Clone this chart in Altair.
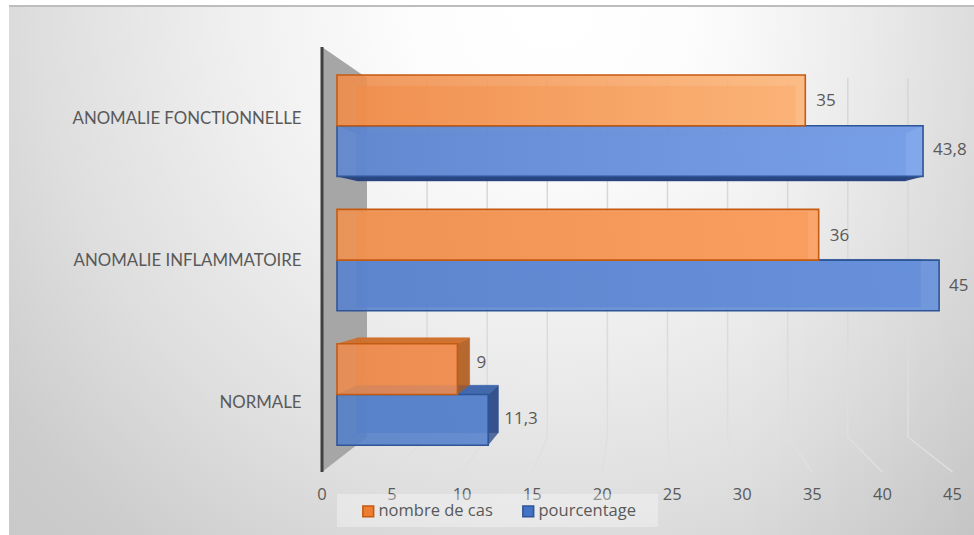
import altair as alt
import pandas as pd

# Chart values
categories = ["ANOMALIE FONCTIONNELLE", "ANOMALIE INFLAMMATOIRE", "NORMALE"]
series_names = ["nombre de cas", "pourcentage"]
nombre_de_cas = [35, 36, 9]
pourcentage = [43.8, 45, 11.3]
axis_ticks = [0, 5, 10, 15, 20, 25, 30, 35, 40, 45]

W, H = 974, 535
FONT = "Open Sans"
CAT_FONT = "Lato"
TEXT = "#595959"

# Front plane of the bars: pixels per unit and the baseline
X0, SX = 337.0, 13.38
# Row layout of the bars
ROW_TOP, ROW_STEP, BAR_H = 75.0, 134.4, 50.7
# Perspective of the bars' depth: back face = vanishing point + K * (front - vanishing point)
VPX, VPY, K = 648.0, 250.0, 0.936

FILLS = {"nombre de cas": "#ED7D31", "pourcentage": "#4472C4"}
EDGES = {"nombre de cas": "#C55A11", "pourcentage": "#2F5597"}
SIDE_DARK = {"nombre de cas": "#A85A20", "pourcentage": "#24407A"}
TOP_DARK = {"nombre de cas": "#CC6C28", "pourcentage": "#3A62A8"}
INNER_TOP = {"nombre de cas": ("#FFB27A", 0.15), "pourcentage": ("#3A60AC", 0.6)}
LIGHT = {"nombre de cas": "#FFB27A", "pourcentage": "#7FA3E8"}
# Left/right colours of each bar's lighting, by row
LIGHTING = {
    "nombre de cas": [("#EF8C4A", "#FDB679"), ("#EF9150", "#FB9E5E"), ("#EC8A4D", "#F08E52")],
    "pourcentage": [("#5E86CF", "#78A1EC"), ("#5882CD", "#6690DC"), ("#5380C8", "#5682CC")],
}

x_scale = alt.Scale(domain=[-X0 / SX, (W - X0) / SX], range=[0, W], nice=False, zero=False)
y_px = alt.Scale(domain=[0, H], range=[0, H], nice=False, zero=False)
y_band = alt.Scale(
    domain=categories,
    range=[ROW_TOP - 16.5, ROW_TOP - 16.5 + 3 * ROW_STEP],
    paddingInner=0,
    paddingOuter=0,
)
off_scale = alt.Scale(domain=series_names, paddingInner=0, paddingOuter=(ROW_STEP - 2 * BAR_H) / 2 / BAR_H)
col_scale = alt.Scale(domain=series_names, range=[FILLS[s] for s in series_names])
stroke_scale = alt.Scale(domain=series_names, range=[EDGES[s] for s in series_names])


def to_value(px):
    return (px - X0) / SX


def back_x(px):
    return VPX + K * (px - VPX)


def back_y(py):
    return VPY + K * (py - VPY)


values = {"nombre de cas": nombre_de_cas, "pourcentage": pourcentage}
bars = pd.DataFrame(
    [
        {"categorie": c, "serie": s, "valeur": values[s][i], "rang": i}
        for s in series_names
        for i, c in enumerate(categories)
    ]
)

# Depth faces of every bar, split by how each face is drawn
back_rows, vert_rows, horiz_rows = [], [], []
for series_pos, s in enumerate(series_names):
    for i in range(3):
        v = values[s][i]
        x_l, x_r = X0, X0 + SX * v
        y_t = ROW_TOP + i * ROW_STEP + series_pos * BAR_H
        y_b = y_t + BAR_H
        bx_l, bx_r, by_t, by_b = back_x(x_l), back_x(x_r), back_y(y_t), back_y(y_b)
        # The upper series sits in front of the lower one's depth, so its rear never hangs below its front
        clipped_b = min(by_b, y_b) if series_pos == 0 else by_b
        face_id = f"{s}-{i}"
        back_rows.append(
            {"s": s, "x": to_value(bx_l), "x2": to_value(bx_r), "y": by_t, "y2": clipped_b}
        )
        # Left and right faces
        for name, fx, bx, outside in (("l", x_l, bx_l, False), ("r", x_r, bx_r, bx_r > x_r)):
            colour, alpha = (SIDE_DARK[s], 0.8) if outside else (LIGHT[s], 0.18)
            for px, yy, yy2 in ((fx, y_t, y_b), (bx, by_t, clipped_b)):
                vert_rows.append(
                    {"id": f"{face_id}-{name}", "s": s, "x": to_value(px), "y": yy, "y2": yy2, "fill": colour, "a": alpha}
                )
        # Top face
        colour, alpha = (TOP_DARK[s], 0.88) if by_t < y_t else INNER_TOP[s]
        for py, xx, xx2 in ((y_t, x_l, x_r), (by_t, bx_l, bx_r)):
            horiz_rows.append(
                {"id": f"{face_id}-t", "s": s, "x": to_value(xx), "x2": to_value(xx2), "y": py, "fill": colour, "a": alpha}
            )
        # Bottom face, only for the lower series
        if series_pos == 1:
            colour, alpha = (SIDE_DARK[s], 0.95) if by_b > y_b else (LIGHT[s], 0.16)
            for py, xx, xx2 in ((y_b, x_l, x_r), (by_b, bx_l, bx_r)):
                horiz_rows.append(
                    {"id": f"{face_id}-b", "s": s, "x": to_value(xx), "x2": to_value(xx2), "y": py, "fill": colour, "a": alpha}
                )

back_df, vert_df, horiz_df = pd.DataFrame(back_rows), pd.DataFrame(vert_rows), pd.DataFrame(horiz_rows)

one = pd.DataFrame({"a": [0]})
X_Q = lambda f="x": alt.X(f"{f}:Q", scale=x_scale, axis=None)
Y_Q = lambda f="y": alt.Y(f"{f}:Q", scale=y_px, axis=None)

# Backdrop: an elliptical sheen centred on the top edge, drawn oversize and masked by the page margins
sheen = alt.Chart(one).mark_rect(
    fill=alt.RadialGradient(
        gradient="radial",
        x1=0.5, y1=0.5, r1=0.0,
        x2=0.5, y2=0.5, r2=0.65,
        stops=[
            alt.GradientStop(offset=0.0, color="#FFFFFF"),
            alt.GradientStop(offset=0.15, color="#FDFDFD"),
            alt.GradientStop(offset=0.35, color="#F0F0F0"),
            alt.GradientStop(offset=0.58, color="#DEDEDE"),
            alt.GradientStop(offset=0.77, color="#CCCCCC"),
            alt.GradientStop(offset=1.0, color="#C4C4C4"),
        ],
    ),
).encode(x=alt.value(0), x2=alt.value(1100), y=alt.value(-675), y2=alt.value(685))
right_shade = alt.Chart(one).mark_rect(
    fill=alt.LinearGradient(
        gradient="linear", x1=0, y1=0, x2=1, y2=0,
        stops=[
            alt.GradientStop(offset=0.0, color="rgba(0,0,0,0)"),
            alt.GradientStop(offset=1.0, color="rgba(0,0,0,0.04)"),
        ],
    ),
).encode(x=alt.value(740), x2=alt.value(W), y=alt.value(5), y2=alt.value(H))
mask_left = alt.Chart(one).mark_rect(fill="#FFFFFF").encode(x=alt.value(0), x2=alt.value(9), y=alt.value(0), y2=alt.value(H))
mask_top = alt.Chart(one).mark_rect(fill="#FFFFFF").encode(x=alt.value(0), x2=alt.value(W), y=alt.value(0), y2=alt.value(5))
top_edge = alt.Chart(one).mark_rect(fill="#BDBDBD").encode(x=alt.value(9), x2=alt.value(W), y=alt.value(5), y2=alt.value(7))

# Left wall and value gridlines in depth
FX0, FSX = 322.0, 14.01
WX0, WSX = 367.0, 12.02
FLOOR_F, FLOOR_B, TOP_F, TOP_B = 472.0, 437.0, 47.0, 78.0

wall_df = pd.DataFrame(
    [
        {"x": to_value(FX0), "y": TOP_F, "y2": FLOOR_F},
        {"x": to_value(WX0), "y": TOP_B, "y2": FLOOR_B},
    ]
)
wall = alt.Chart(wall_df).mark_area(orient="vertical", color="#A6A6A6", opacity=1).encode(
    x=X_Q(), y=Y_Q(), y2="y2:Q"
)

grid_rows = []
for t in axis_ticks[1:]:
    grid_rows += [
        {"t": t, "o": 0, "x": to_value(WX0 + WSX * t), "y": TOP_B},
        {"t": t, "o": 1, "x": to_value(WX0 + WSX * t), "y": FLOOR_B},
        {"t": t, "o": 2, "x": to_value(FX0 + FSX * t), "y": FLOOR_F},
    ]
grid = alt.Chart(pd.DataFrame(grid_rows)).mark_line(
    stroke=alt.LinearGradient(
        gradient="linear", x1=0, y1=0, x2=0, y2=1,
        stops=[
            alt.GradientStop(offset=0.0, color="#D6D6D6"),
            alt.GradientStop(offset=0.5, color="#D9D9D9"),
            alt.GradientStop(offset=1.0, color="#E0E0E0"),
        ],
    ),
    strokeWidth=1.5,
).encode(
    x=alt.X("x:Q", scale=x_scale, axis=None, sort=None),
    y=Y_Q(),
    detail="t:N",
    order="o:Q",
)

spine = alt.Chart(wall_df.head(1)).mark_rule(color="#404040", strokeWidth=3).encode(
    x=X_Q(), y=Y_Q(), y2="y2:Q"
)

# Tick values along the floor's front edge
floor_labels = alt.Chart(pd.DataFrame({"t": axis_ticks})).mark_text(
    font=FONT, fontSize=16.5, color=TEXT, baseline="middle", align="center"
).encode(
    x=alt.X(
        "t:Q",
        scale=alt.Scale(domain=[0, 45], range=[FX0, FX0 + 45 * FSX], nice=False, zero=False),
        axis=None,
    ),
    y=alt.value(495),
    text="t:Q",
)

# Translucent band behind the legend, over the tick values it crosses
legend_band = alt.Chart(one).mark_rect(fill="#FFFFFF", opacity=0.33).encode(
    x=alt.value(337), x2=alt.value(658), y=alt.value(494), y2=alt.value(527)
)

# Category axis, following the wall's front edge
cat_axis = alt.Chart(pd.DataFrame({"c": categories})).mark_point(opacity=0).encode(
    y=alt.Y(
        "c:N",
        sort=categories,
        title=None,
        scale=alt.Scale(domain=categories, range=[TOP_F + 1, FLOOR_F + 1], paddingInner=0, paddingOuter=0),
        axis=alt.Axis(
            domain=False, ticks=False, grid=False, offset=-301, labelPadding=0, zindex=1,
            labelFont=CAT_FONT, labelFontSize=16.8, labelColor=TEXT, labelLimit=300,
        ),
    ),
    x=alt.value(301),
)

legend_spec = dict(
    title=None, orient="none", legendX=360, legendY=503, direction="horizontal", columns=2,
    columnPadding=26, padding=0, symbolType="square", symbolSize=115, symbolStrokeWidth=1.6,
    labelFont=FONT, labelFontSize=16.5, labelColor=TEXT, labelOffset=2, symbolOpacity=1,
)

# Base bars carry the shared scales and the legend
base = alt.Chart(bars).mark_bar(opacity=0.0).encode(
    x=alt.X("valeur:Q", scale=x_scale, axis=None, stack=None),
    y=alt.Y("categorie:N", scale=y_band, sort=categories, axis=None),
    yOffset=alt.YOffset("serie:N", scale=off_scale, sort=series_names),
    color=alt.Color("serie:N", scale=col_scale, legend=alt.Legend(**legend_spec)),
    stroke=alt.Stroke("serie:N", scale=stroke_scale, legend=alt.Legend(**legend_spec)),
)


def bar_layers(s):
    """All faces of one series, rear to front."""
    layers = []
    back = back_df[back_df.s == s]
    layers.append(
        alt.Chart(back).mark_rect(opacity=0.8, fill=LIGHTING[s][0][0], stroke=EDGES[s], strokeWidth=1, strokeOpacity=0.45).encode(
            x=X_Q(), x2="x2:Q", y=Y_Q(), y2="y2:Q"
        )
    )
    v = vert_df[vert_df.s == s]
    layers.append(
        alt.Chart(v).mark_area(orient="vertical").encode(
            x=X_Q(), y=Y_Q(), y2="y2:Q", detail="id:N",
            fill=alt.Fill("fill:N", scale=None), opacity=alt.Opacity("a:Q", scale=None),
        )
    )
    h = horiz_df[horiz_df.s == s]
    layers.append(
        alt.Chart(h).mark_area(orient="horizontal").encode(
            y=Y_Q(), x=X_Q(), x2="x2:Q", detail="id:N",
            fill=alt.Fill("fill:N", scale=None), opacity=alt.Opacity("a:Q", scale=None),
        )
    )
    sub = bars[bars.serie == s]
    for _, row in sub.iterrows():
        left, right = LIGHTING[s][row.rang]
        layers.append(
            alt.Chart(pd.DataFrame([row])).mark_bar(
                fill=alt.LinearGradient(
                    gradient="linear", x1=0, y1=0, x2=1, y2=0,
                    stops=[alt.GradientStop(offset=0, color=left), alt.GradientStop(offset=1, color=right)],
                ),
                fillOpacity=0.88,
                stroke=EDGES[s],
                strokeWidth=1.6,
            ).encode(
                x=alt.X("valeur:Q", scale=x_scale, axis=None, stack=None),
                y=alt.Y("categorie:N", scale=y_band, sort=categories, axis=None),
                yOffset=alt.YOffset("serie:N", scale=off_scale, sort=series_names),
            )
        )
    return layers


# Data labels, set clear of each bar's outer edge
label_nudges = {
    ("nombre de cas", 0): (11, 1), ("pourcentage", 0): (10, -1),
    ("nombre de cas", 1): (11, 1), ("pourcentage", 1): (10, 1),
    ("nombre de cas", 2): (19, -6), ("pourcentage", 2): (16, -1),
}
label_layers = []
for (s, i), (dx, dy) in label_nudges.items():
    row = bars[(bars.serie == s) & (bars.rang == i)].copy()
    row["texte"] = row["valeur"].map(lambda v: f"{v:g}".replace(".", ","))
    label_layers.append(
        alt.Chart(row).mark_text(align="left", baseline="middle", dx=dx, dy=dy, font=FONT, fontSize=17, color=TEXT).encode(
            x=alt.X("valeur:Q", scale=x_scale, axis=None, stack=None),
            y=alt.Y("categorie:N", scale=y_band, sort=categories, axis=None),
            yOffset=alt.YOffset("serie:N", scale=off_scale, sort=series_names),
            text="texte:N",
        )
    )

layers = [sheen, right_shade, mask_left, mask_top, top_edge, wall, grid, spine, cat_axis, base]
layers += bar_layers("pourcentage") + bar_layers("nombre de cas")
layers += label_layers + [floor_labels, legend_band]

chart = (
    alt.layer(*layers)
    .resolve_scale(x="independent", y="independent")
    .properties(width=W, height=H, padding=0, autosize=alt.AutoSizeParams(type="none"), background="#FFFFFF")
    .configure_view(stroke=None)
)

chart.save("out.html", embed_options={"renderer": "svg", "actions": False})
